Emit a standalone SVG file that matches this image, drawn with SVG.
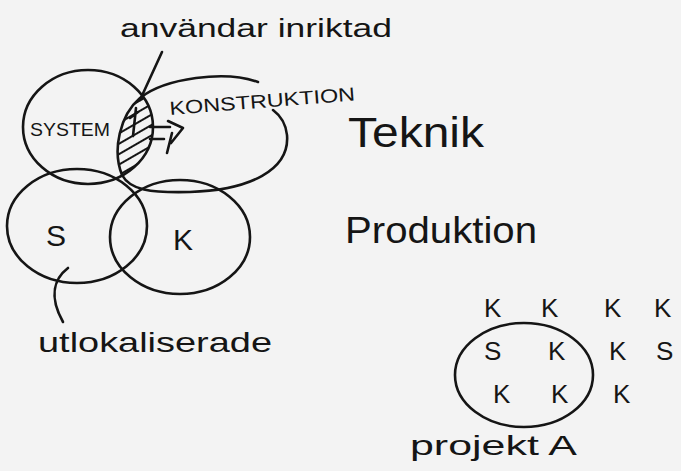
<svg xmlns="http://www.w3.org/2000/svg" width="681" height="471" viewBox="0 0 681 471">
<style>
.ln{fill:none;stroke:#151515;stroke-width:2.6;stroke-linecap:round;stroke-linejoin:round}
.tx{font-family:"Liberation Sans","DejaVu Sans",sans-serif;fill:#151515}
</style>
<defs>
<pattern id="hatch" width="10" height="9" patternUnits="userSpaceOnUse" patternTransform="rotate(-30)">
<line x1="0" y1="4" x2="10" y2="4" stroke="#151515" stroke-width="2"/>
</pattern>
<clipPath id="clipSys"><ellipse cx="88" cy="127" rx="65" ry="57"/></clipPath>
<clipPath id="clipKon"><path d="M258 82 C225 70,165 78,140 98 C120 115,112 150,122 175 C130 190,150 193,190 192 C250 190,290 170,287 135 C286 110,280 90,258 82 Z"/></clipPath>
</defs>
<rect width="681" height="471" fill="#f3f3f3"/>
<g id="title" class="tx"><text x="120" y="37" font-size="26" textLength="272" lengthAdjust="spacingAndGlyphs">användar inriktad</text></g>
<g id="system">
<ellipse class="ln" cx="88" cy="127" rx="65" ry="57"/>
<text class="tx" x="30" y="136" font-size="19" textLength="80" lengthAdjust="spacingAndGlyphs">SYSTEM</text>
</g>
<g id="konstruktion">
<path class="ln" d="M258 82 C225 70,165 78,140 98 C120 115,112 150,122 175 C130 190,150 193,190 192 C250 190,290 170,287 135 C286 125,281 116,273 110"/>
<text class="tx" x="170" y="115" font-size="19" textLength="186" lengthAdjust="spacingAndGlyphs" transform="rotate(-4.5 170 115)">KONSTRUKTION</text>
</g>
<g id="overlap">
<g clip-path="url(#clipSys)"><g clip-path="url(#clipKon)"><rect x="100" y="90" width="70" height="95" fill="url(#hatch)"/></g></g>
<path class="ln" d="M136 108 L133 136 M130 118 L138 112" />
<path class="ln" d="M150 127 H170 M168 121 L183 128 L171 143 M150 139 H164 M172 133 L167 153"/>
</g>
<g id="s">
<ellipse class="ln" cx="77" cy="226" rx="70" ry="57"/>
<text class="tx" x="46" y="246" font-size="30">S</text>
</g>
<g id="k">
<ellipse class="ln" cx="180" cy="237" rx="70" ry="57"/>
<text class="tx" x="173" y="250" font-size="30">K</text>
</g>
<g id="teknik" class="tx"><text x="348" y="147" font-size="42" textLength="136" lengthAdjust="spacingAndGlyphs">Teknik</text></g>
<g id="produktion" class="tx"><text x="345" y="243" font-size="36" textLength="192" lengthAdjust="spacingAndGlyphs">Produktion</text></g>
<g id="utlokaliserade" class="tx"><text x="38" y="352" font-size="28" textLength="234" lengthAdjust="spacingAndGlyphs">utlokaliserade</text></g>
<g id="projektA">
<ellipse class="ln" cx="524" cy="375" rx="69" ry="52"/>
<g class="tx" font-size="26">
<text x="484" y="317">K</text><text x="541" y="317">K</text><text x="604" y="317">K</text><text x="654" y="317">K</text>
<text x="484" y="360">S</text><text x="548" y="360">K</text><text x="609" y="360">K</text><text x="656" y="360">S</text>
<text x="493" y="403">K</text><text x="551" y="403">K</text><text x="613" y="403">K</text>
</g>
<text class="tx" x="410" y="455" font-size="28" textLength="167" lengthAdjust="spacingAndGlyphs">projekt A</text>
</g>
<g id="connectors">
<path class="ln" d="M162 52 L140 100"/>
<path class="ln" d="M68 268 C55 278,48 295,63 322"/>
</g>
</svg>
